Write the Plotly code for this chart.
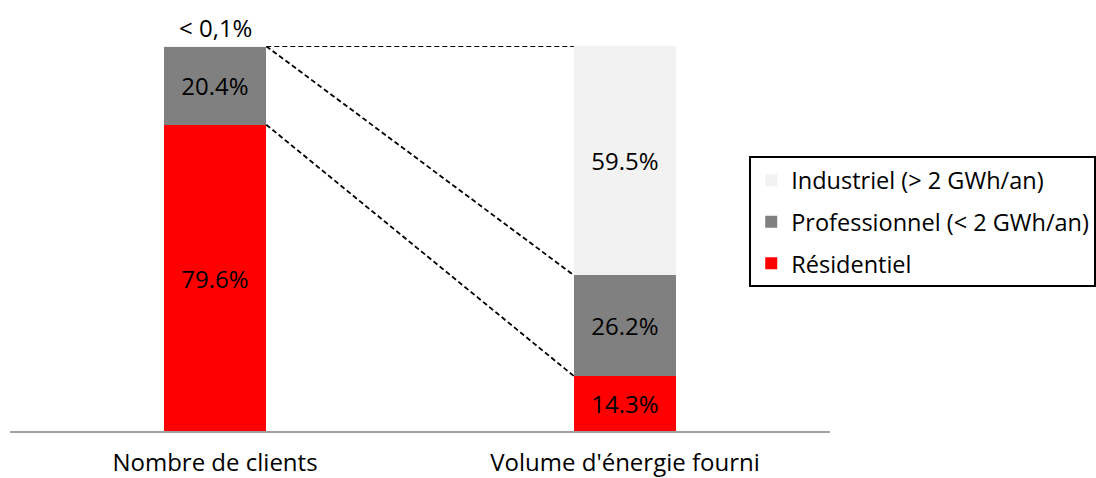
import plotly.graph_objects as go

categories = ["Nombre de clients", "Volume d'énergie fourni"]
series_names = ["Résidentiel", "Professionnel (< 2 GWh/an)", "Industriel (> 2 GWh/an)"]
residentiel = [79.6, 14.3]
professionnel = [20.4, 26.2]
industriel = [0.05, 59.5]
labels_res = ["79.6%", "14.3%"]
labels_pro = ["20.4%", "26.2%"]
labels_ind = ["", "59.5%"]
small_label = "< 0,1%"
colors = ["#FF0000", "#808080", "#F2F2F2"]
legend_ranks = [3, 2, 1]

FONT = "Open Sans"
FS = 24
BAR_W = 0.25

fig = go.Figure()
vals = [residentiel, professionnel, industriel]
labs = [labels_res, labels_pro, labels_ind]
for name, v, t, c, r in zip(series_names, vals, labs, colors, legend_ranks):
    fig.add_trace(go.Bar(
        x=categories, y=v, name=name, marker=dict(color=c, line=dict(width=0)),
        width=BAR_W, text=t, textposition="inside", insidetextanchor="middle",
        textfont=dict(family=FONT, size=FS, color="black"),
        cliponaxis=False, legendgroup=name, legendrank=r, hoverinfo="skip",
    ))

cum1 = [0, residentiel[0], residentiel[0] + professionnel[0], residentiel[0] + professionnel[0] + industriel[0]]
cum2 = [0, residentiel[1], residentiel[1] + professionnel[1], residentiel[1] + professionnel[1] + industriel[1]]
ytop = max(cum1[3], cum2[3])

# label above the tiny industrial segment of the first bar
fig.add_annotation(x=categories[0], y=cum1[3], text=small_label, showarrow=False,
                   xref="x", yref="y", yanchor="bottom", yshift=0,
                   font=dict(family=FONT, size=FS, color="black"))

# dashed connectors between stack boundaries
for k in (1, 2, 3):
    fig.add_shape(type="line", xref="x", yref="y",
                  x0=0 + BAR_W / 2, x1=1 - BAR_W / 2, y0=cum1[k], y1=cum2[k],
                  line=dict(color="black", width=1.8, dash="5px,3px"))

fig.update_layout(
    width=1096, height=478,
    margin=dict(l=10, r=266, t=46, b=47, autoexpand=False),
    barmode="stack", bargap=0,
    plot_bgcolor="white", paper_bgcolor="white",
    font=dict(family=FONT, size=FS, color="black"),
    showlegend=True,
    legend=dict(
        x=0.9015, y=0.713, xanchor="left", yanchor="top",
        traceorder="grouped", tracegroupgap=8,
        bgcolor="white", bordercolor="black", borderwidth=2,
        font=dict(family=FONT, size=23.5, color="black"),
    ),
    xaxis=dict(
        range=[-0.5, 1.5], showline=True, linecolor="#A0A0A0", linewidth=2,
        showgrid=False, ticks="", ticklabelstandoff=9,
        tickfont=dict(family=FONT, size=FS, color="black"),
    ),
    yaxis=dict(range=[0, ytop], visible=False),
)

fig.write_html("out.html")
